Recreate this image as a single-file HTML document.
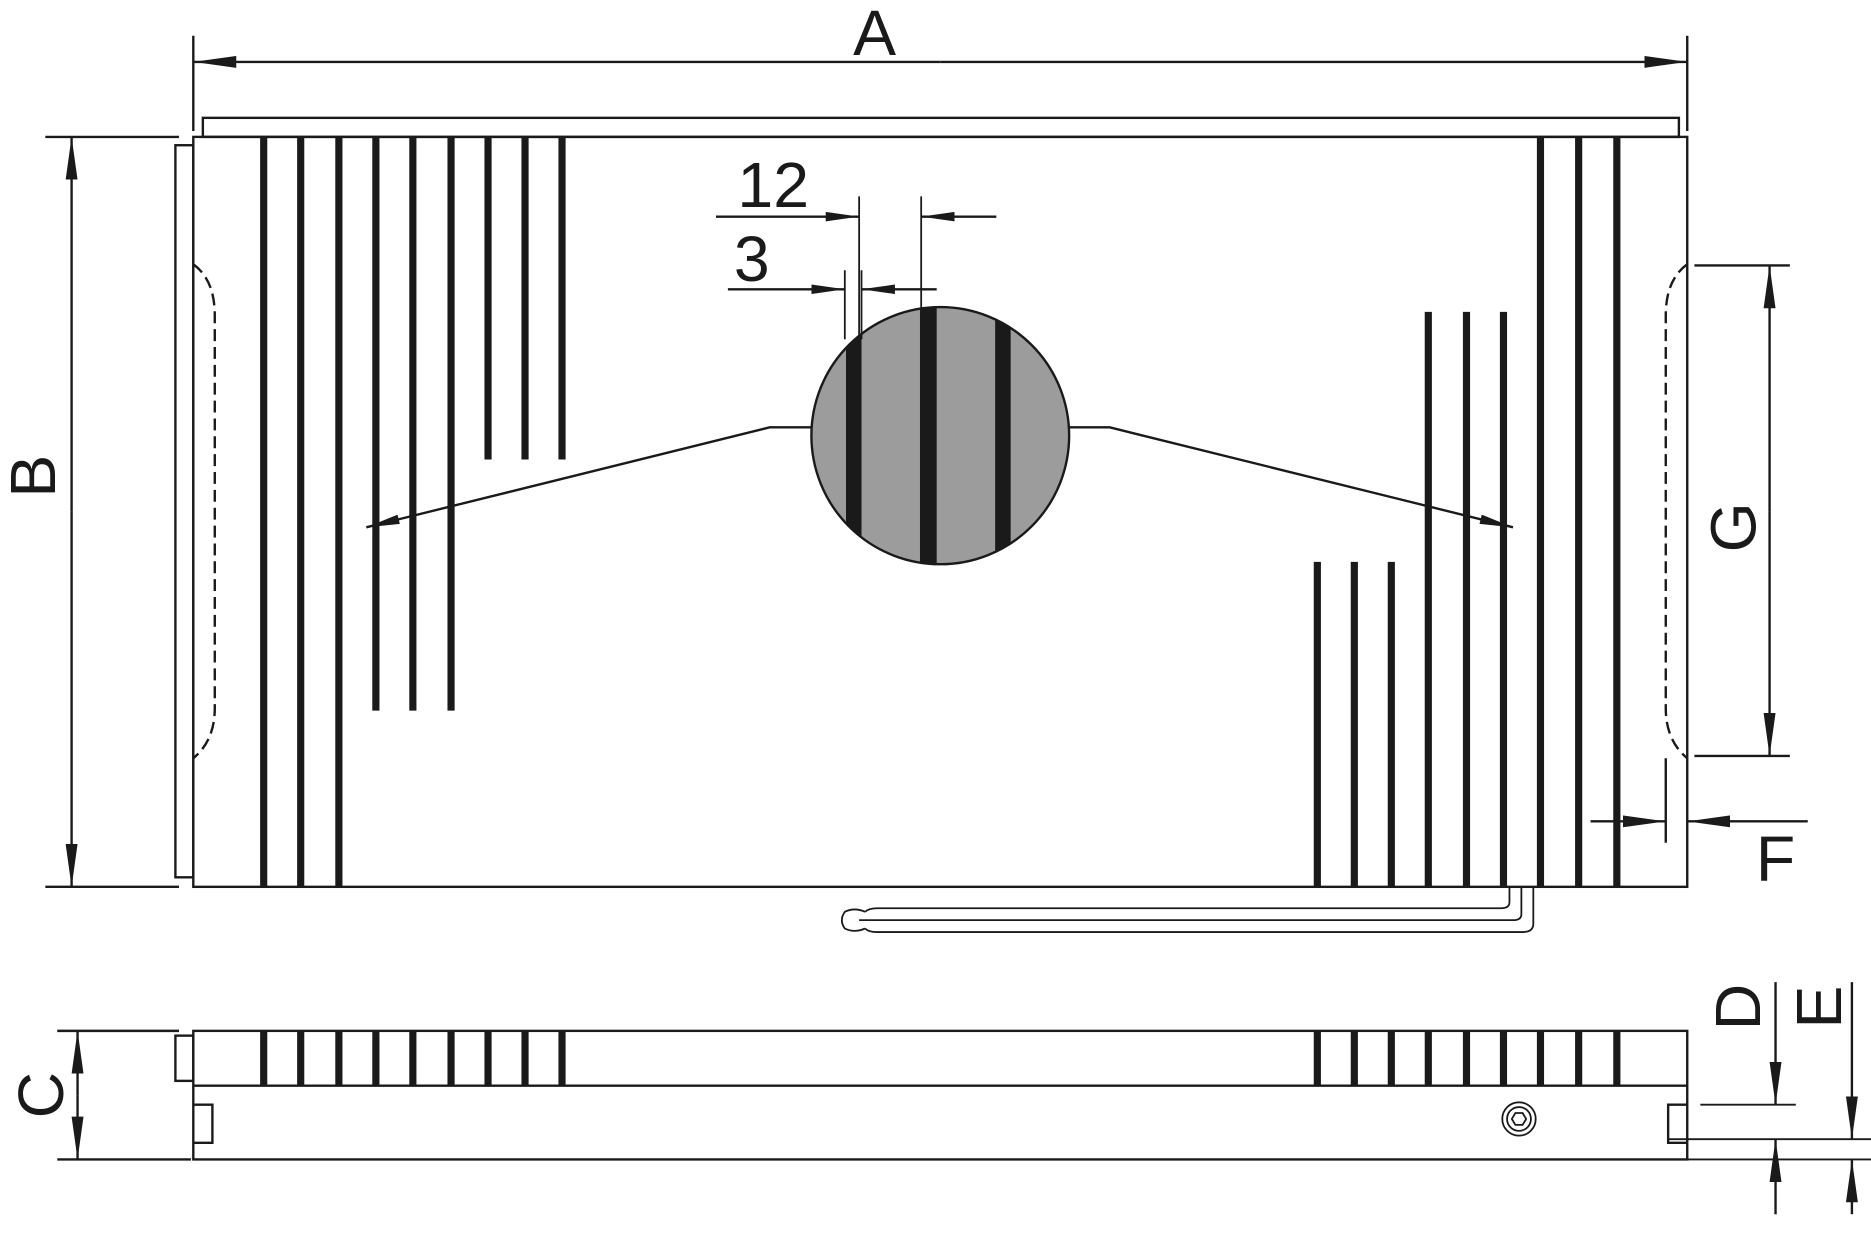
<!DOCTYPE html>
<html><head><meta charset="utf-8"><style>html,body{margin:0;padding:0;background:#fff}svg{display:block}</style></head><body>
<svg width="1871" height="1238" viewBox="0 0 1568 1040" preserveAspectRatio="none" xmlns="http://www.w3.org/2000/svg" font-family="Liberation Sans, sans-serif">
<defs>
<marker id="ar" viewBox="0 0 36 10" refX="36" refY="5" markerWidth="36" markerHeight="10" markerUnits="userSpaceOnUse" orient="auto"><path d="M0,0 L36,5 L0,10Z" fill="#1a1a1a"/></marker>
<marker id="as" viewBox="0 0 28 8" refX="28" refY="4" markerWidth="28" markerHeight="8" markerUnits="userSpaceOnUse" orient="auto"><path d="M0,0 L28,4 L0,8Z" fill="#1a1a1a"/></marker>
<clipPath id="cc"><circle cx="788" cy="366" r="108"/></clipPath>
</defs>
<g stroke="#1a1a1a" fill="none" stroke-width="2">
<rect x="170" y="99" width="1237" height="16"/>
<rect x="147" y="122" width="15" height="615"/>
<rect x="162" y="115" width="1252" height="630"/>
<path d="M162,222 Q180,235 180,265 L180,595 Q180,622 162,637" stroke-dasharray="10,5"/>
<path d="M1414,222 Q1396,235 1396,265 L1396,595 Q1396,622 1414,637" stroke-dasharray="10,5"/>
<path d="M1396,637 L1396,708"/>
</g>
<g stroke="#1a1a1a" stroke-width="6">
<path d="M221,115V745M252,115V745M284,115V745M315,115V597M346,115V597M378,115V597M409,115V386M440,115V386M471,115V386"/>
<path d="M1291,115V745M1323,115V745M1355,115V745M1197,262V745M1229,262V745M1260,262V745M1104,472V745M1135,472V745M1166,472V745"/>
<path d="M221,866V912M252,866V912M284,866V912M315,866V912M346,866V912M378,866V912M409,866V912M440,866V912M471,866V912"/>
<path d="M1104,866V912M1135,866V912M1166,866V912M1197,866V912M1229,866V912M1260,866V912M1291,866V912M1323,866V912M1355,866V912"/>
</g>
<g stroke="#1a1a1a" stroke-width="1.5" fill="none">
<path d="M1265,745 V758 Q1265,763 1258,763 H735 Q728,763 725,766"/>
<path d="M1275,745 V768 Q1275,773 1268,773 H720"/>
<path d="M1285,745 V776 Q1285,783 1276,783 H735 Q728,783 725,780"/>
<path d="M725,766 Q716,762 708,766 Q703,773 708,780 Q716,784 725,780"/>
</g>
<circle cx="788" cy="366" r="108" fill="#9c9c9c" stroke="#1a1a1a" stroke-width="2"/>
<g clip-path="url(#cc)" fill="#1a1a1a"><rect x="709" y="250" width="13" height="240"/><rect x="771" y="250" width="14" height="240"/><rect x="834" y="250" width="13" height="240"/></g>
<g stroke="#1a1a1a" stroke-width="2" fill="none">
<path d="M680,359 H645 L307,443" marker-end="url(#as)"/>
<path d="M896,359 H930 L1268,443" marker-end="url(#as)"/>
<path d="M162,30V110M1414,30V110"/>
<path d="M788,52H162" marker-end="url(#ar)"/><path d="M788,52H1414" marker-end="url(#ar)"/>
<path d="M38,115H150M38,745H150"/>
<path d="M60,430V115" marker-end="url(#ar)"/><path d="M60,430V745" marker-end="url(#ar)"/>
<path d="M720,165V290M772,165V262M708,227V285M722,227V285" stroke-width="1.5"/>
<path d="M600,182H720" marker-end="url(#as)"/><path d="M835,182H772" marker-end="url(#as)"/>
<path d="M610,243H708" marker-end="url(#as)"/><path d="M785,243H722" marker-end="url(#as)"/>
<path d="M1420,223H1500M1420,635H1500"/>
<path d="M1483,430V223" marker-end="url(#ar)"/><path d="M1483,430V635" marker-end="url(#ar)"/>
<path d="M1333,690H1396" marker-end="url(#ar)"/><path d="M1515,690H1414" marker-end="url(#ar)"/>
<rect x="162" y="866" width="1252" height="108"/>
<path d="M162,912H1414"/>
<rect x="147" y="870" width="15" height="38"/>
<path d="M162,928H178V960H162M1414,928H1398V960H1414"/>
<circle cx="1273" cy="940" r="14" stroke-width="1.5"/><circle cx="1273" cy="940" r="10" stroke-width="1.5"/>
<path d="M1267,940 L1270,935 H1276 L1279,940 L1276,945 H1270Z" stroke-width="1.5"/>
<path d="M48,866H150M48,974H160"/>
<path d="M65,920V866" marker-end="url(#ar)"/><path d="M65,920V974" marker-end="url(#ar)"/>
<path d="M1425,928H1505M1398,957H1568M1414,974H1568" stroke-width="1.5"/>
<path d="M1488,825V928" marker-end="url(#ar)"/><path d="M1488,1020V957" marker-end="url(#ar)"/>
<path d="M1552,825V957" marker-end="url(#ar)"/><path d="M1552,1020V974" marker-end="url(#ar)"/>
</g>
<g fill="#1a1a1a" font-size="54">
<text x="733" y="46" text-anchor="middle">A</text>
<text x="648" y="174" text-anchor="middle">12</text>
<text x="630" y="236" text-anchor="middle">3</text>
<text x="1488" y="740" text-anchor="middle">F</text>
<text transform="translate(46,400) rotate(-90)" text-anchor="middle">B</text>
<text transform="translate(1471,443) rotate(-90)" text-anchor="middle">G</text>
<text transform="translate(53,920) rotate(-90)" text-anchor="middle">C</text>
<text transform="translate(1475,846) rotate(-90)" text-anchor="middle">D</text>
<text transform="translate(1543,846) rotate(-90)" text-anchor="middle">E</text>
</g>
</svg>
</body></html>
